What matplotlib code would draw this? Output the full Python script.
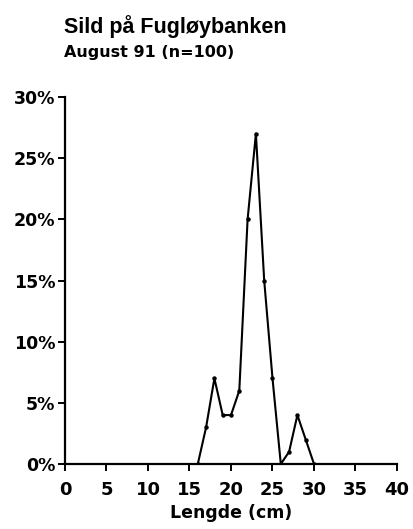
import matplotlib
matplotlib.use("Agg")
import matplotlib.pyplot as plt

# length distribution, herring at Fugløybanken, Aug 1991 (n=100)
lengths = [16, 17, 18, 19, 20, 21, 22, 23, 24, 25, 26, 27, 28, 29, 30]
percent = [0, 3, 7, 4, 4, 6, 20, 27, 15, 7, 0, 1, 4, 2, 0]
xticks = [0, 5, 10, 15, 20, 25, 30, 35, 40]
yticks = [0, 5, 10, 15, 20, 25, 30]

plt.rcParams['font.family'] = ['DejaVu Sans']

fig = plt.figure(figsize=(4.14, 5.29), dpi=100)
W, H = 414, 529
ax = fig.add_axes([65/W, 1-464/H, (397-65)/W, (464-97)/H])

ax.plot(lengths, percent, color="black", lw=1.5, marker="o", ms=2.2)
ax.set_xlim(0, 40); ax.set_ylim(0, 30)
ax.set_xticks(xticks)
ax.set_yticks(yticks)
ax.set_yticklabels([f"{v}%" for v in yticks])
for s in ["top", "right"]:
    ax.spines[s].set_visible(False)
for s in ["left", "bottom"]:
    ax.spines[s].set_linewidth(1.6)
ax.tick_params(direction="out", length=5, width=1.4, labelsize=12.5)
ax.tick_params(axis="y", pad=2)
ax.tick_params(axis="x", labelsize=13, pad=7)
for t in ax.get_xticklabels() + ax.get_yticklabels():
    t.set_fontweight("bold")
ax.set_xlabel("Lengde (cm)", fontsize=12.5, fontweight="bold", labelpad=4)

fig.text(64/W, 1-33/H, "Sild på Fugløybanken", fontsize=15.5, fontweight="bold",
         family="Liberation Sans", va="baseline", ha="left")
fig.text(64/W, 1-57/H, "August 91 (n=100)", fontsize=11.5, fontweight="bold",
         va="baseline", ha="left")

fig.savefig("out.png", dpi=100)
